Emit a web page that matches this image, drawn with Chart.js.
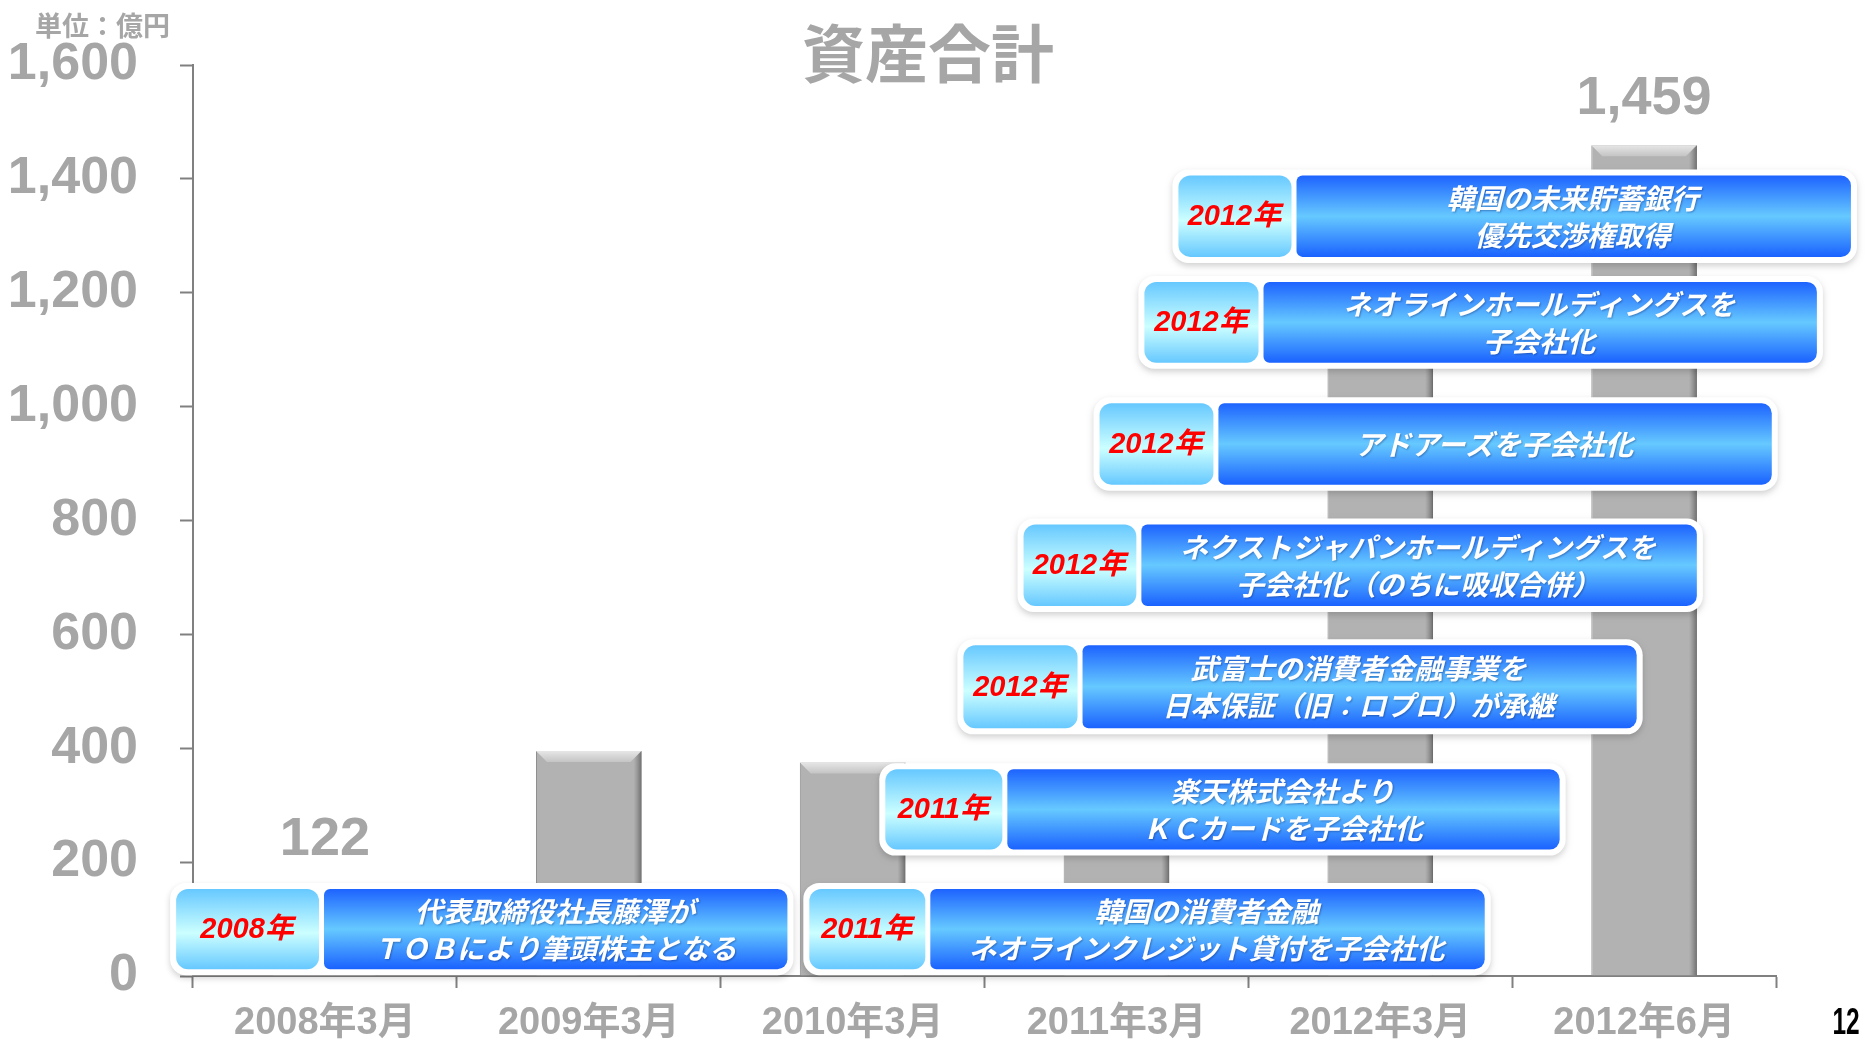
<!DOCTYPE html>
<html>
<head>
<meta charset="utf-8">
<script src="https://cdn.jsdelivr.net/npm/chart.js@4.4.1/dist/chart.umd.min.js"></script>
<style>
  html, body { margin: 0; padding: 0; background: #fff; }
  #wrap { width: 1865px; height: 1042px; }
</style>
</head>
<body>
<div id="wrap"><canvas id="assetChart" width="1865" height="1042"></canvas></div>
<script>
// data
const periods = ['2008年3月', '2009年3月', '2010年3月', '2011年3月', '2012年3月', '2012年6月'];
const totalAssets = [122, 395, 375, 300, 1150, 1459];
const valueLabels = ['122', '', '', '', '', '1,459'];
const yTicks = [0, 200, 400, 600, 800, 1000, 1200, 1400, 1600];

const eventYears = ['2008年', '2011年', '2011年', '2012年', '2012年', '2012年', '2012年', '2012年'];
const eventTexts = [
    ['代表取締役社長藤澤が', 'ＴＯＢにより筆頭株主となる'],
    ['韓国の消費者金融', 'ネオラインクレジット貸付を子会社化'],
    ['楽天株式会社より', 'ＫＣカードを子会社化'],
    ['武富士の消費者金融事業を', '日本保証（旧：ロプロ）が承継'],
    ['ネクストジャパンホールディングスを', '子会社化（のちに吸収合併）'],
    ['アドアーズを子会社化'],
    ['ネオラインホールディングスを', '子会社化'],
    ['韓国の未来貯蓄銀行', '優先交渉権取得']
];

// layout of the callouts, in category index / value units
const calloutPos = [
    { x0: -0.564, xs: -0.011, x1: 1.753, top: 153, bottom: 12 },
    { x0: 1.836, xs: 2.287, x1: 4.396, top: 153, bottom: 12 },
    { x0: 2.124, xs: 2.579, x1: 4.680, top: 363, bottom: 222 },
    { x0: 2.420, xs: 2.864, x1: 4.972, top: 581, bottom: 435 },
    { x0: 2.648, xs: 3.087, x1: 5.200, top: 793, bottom: 650 },
    { x0: 2.936, xs: 3.379, x1: 5.484, top: 1006, bottom: 863 },
    { x0: 3.106, xs: 3.550, x1: 5.655, top: 1219, bottom: 1077 },
    { x0: 3.235, xs: 3.675, x1: 5.784, top: 1406, bottom: 1263 }
];
const labelLift = [66, 0, 0, 0, 0, 46];

const GRAY = '#a6a6a6';
const AXIS = '#808080';
const FONT = "'Liberation Sans', 'Noto Sans CJK JP', sans-serif";
const JP = "'Noto Sans CJK JP', sans-serif";

function drawBevel(ctx, bar) {
    const l = bar.x - bar.width / 2, r = bar.x + bar.width / 2, t = bar.y, b = bar.base;
    const bv = Math.min(11, (b - t) / 2);
    ctx.save();
    let g = ctx.createLinearGradient(0, t, 0, t + bv);
    g.addColorStop(0, '#e6e6e6');
    g.addColorStop(1, '#c4c4c4');
    ctx.fillStyle = g;
    ctx.beginPath();
    ctx.moveTo(l, t); ctx.lineTo(r, t); ctx.lineTo(r - bv, t + bv); ctx.lineTo(l + bv, t + bv);
    ctx.closePath();
    ctx.fill();
    g = ctx.createLinearGradient(r - 8, 0, r, 0);
    g.addColorStop(0, 'rgba(130,130,130,0)');
    g.addColorStop(1, 'rgba(105,105,105,0.95)');
    ctx.fillStyle = g;
    ctx.beginPath();
    ctx.moveTo(r, t); ctx.lineTo(r, b); ctx.lineTo(r - 8, b); ctx.lineTo(r - 8, t + 8);
    ctx.closePath();
    ctx.fill();
    ctx.restore();
}

function drawCallout(ctx, xs, ys, p, year, lines) {
    const x0 = xs.getPixelForValue(p.x0), xm = xs.getPixelForValue(p.xs), x1 = xs.getPixelForValue(p.x1);
    const top = ys.getPixelForValue(p.top), bot = ys.getPixelForValue(p.bottom);
    const h = bot - top;

    ctx.save();
    ctx.shadowColor = 'rgba(0,0,0,0.18)';
    ctx.shadowBlur = 6;
    ctx.shadowOffsetY = 3;
    ctx.fillStyle = '#fff';
    ctx.beginPath();
    ctx.roundRect(x0 - 6, top - 6, x1 - x0 + 12, h + 12, 16);
    ctx.fill();
    ctx.restore();

    let g = ctx.createLinearGradient(0, top, 0, bot);
    g.addColorStop(0, '#66c8ff');
    g.addColorStop(0.55, '#ccffff');
    g.addColorStop(1, '#66c8ff');
    ctx.fillStyle = g;
    ctx.beginPath();
    ctx.roundRect(x0, top, xm - x0 - 3, h, 12);
    ctx.fill();

    g = ctx.createLinearGradient(0, top, 0, bot);
    g.addColorStop(0, '#1d63ff');
    g.addColorStop(0.5, '#66c9ff');
    g.addColorStop(1, '#1a62ff');
    ctx.fillStyle = g;
    ctx.beginPath();
    ctx.roundRect(xm + 2, top, x1 - xm - 2, h, [6, 10, 10, 6]);
    ctx.fill();

    const cy = (top + bot) / 2;
    ctx.save();
    ctx.textAlign = 'center';
    ctx.textBaseline = 'middle';
    ctx.fillStyle = '#ff0000';
    ctx.font = 'italic bold 29px ' + FONT;
    ctx.fillText(year, (x0 + xm) / 2 - 2, cy + 1);

    ctx.font = 'italic bold 28px ' + JP;
    ctx.fillStyle = '#fff';
    ctx.shadowColor = 'rgba(0,20,80,0.35)';
    ctx.shadowBlur = 2;
    ctx.shadowOffsetX = 1;
    ctx.shadowOffsetY = 1;
    const cx = (xm + x1) / 2;
    if (lines.length === 1) {
        ctx.fillText(lines[0], cx, cy);
    } else {
        ctx.fillText(lines[0], cx, cy - 18);
        ctx.fillText(lines[1], cx, cy + 19);
    }
    ctx.restore();
}

const overlay = {
    id: 'overlay',
    afterDatasetsDraw(chart) {
        const { ctx, scales: { x, y } } = chart;
        const meta = chart.getDatasetMeta(0);
        meta.data.forEach(bar => drawBevel(ctx, bar));

        calloutPos.forEach((p, i) => drawCallout(ctx, x, y, p, eventYears[i], eventTexts[i]));

        ctx.save();
        ctx.fillStyle = GRAY;
        ctx.font = 'bold 54px ' + FONT;
        ctx.textAlign = 'center';
        ctx.textBaseline = 'middle';
        meta.data.forEach((bar, i) => {
            if (valueLabels[i]) ctx.fillText(valueLabels[i], bar.x, bar.y - labelLift[i]);
        });
        ctx.restore();
    },
    afterDraw(chart) {
        const ctx = chart.ctx;
        ctx.save();
        ctx.textBaseline = 'middle';
        ctx.fillStyle = GRAY;
        ctx.textAlign = 'center';
        ctx.font = 'bold 63px ' + JP;
        ctx.fillText('資産合計', 928, 53);
        ctx.textAlign = 'left';
        ctx.font = 'bold 27px ' + JP;
        ctx.fillText('単位：億円', 35, 26);
        // page number, condensed
        ctx.fillStyle = '#000';
        ctx.textAlign = 'center';
        ctx.font = 'bold 36px ' + FONT;
        ctx.translate(1846, 1024);
        ctx.scale(0.68, 1);
        ctx.fillText('12', 0, 0);
        ctx.restore();
    }
};

new Chart(document.getElementById('assetChart'), {
    type: 'bar',
    data: {
        labels: periods,
        datasets: [{
            data: totalAssets,
            backgroundColor: '#b2b2b2',
            borderColor: '#8e8e8e',
            borderWidth: 1,
            barPercentage: 0.4,
            categoryPercentage: 1.0
        }]
    },
    options: {
        responsive: false,
        animation: false,
        layout: { padding: { top: 65, right: 89, left: 0, bottom: 0 } },
        plugins: { legend: { display: false }, tooltip: { enabled: false } },
        scales: {
            x: {
                afterFit: s => { s.height = 66; s.paddingLeft = 0; s.paddingRight = 0; },
                grid: { drawOnChartArea: false, drawTicks: true, tickLength: 12, tickColor: AXIS, tickWidth: 2 },
                border: { display: true, color: AXIS, width: 2 },
                ticks: { color: GRAY, padding: 13, font: { family: FONT, size: 38, weight: 'bold' } }
            },
            y: {
                min: 0,
                max: 1600,
                afterFit: s => { s.width = 193; s.paddingTop = 0; s.paddingBottom = 0; },
                afterBuildTicks: s => { s.ticks = yTicks.map(v => ({ value: v })); },
                grid: { drawOnChartArea: false, drawTicks: true, tickLength: 13, tickColor: AXIS, tickWidth: 2 },
                border: { display: true, color: AXIS, width: 2 },
                ticks: {
                    color: GRAY,
                    padding: 42,
                    font: { family: FONT, size: 52, weight: 'bold' },
                    callback: v => v.toLocaleString('en-US')
                }
            }
        }
    },
    plugins: [overlay]
});
</script>
</body>
</html>
